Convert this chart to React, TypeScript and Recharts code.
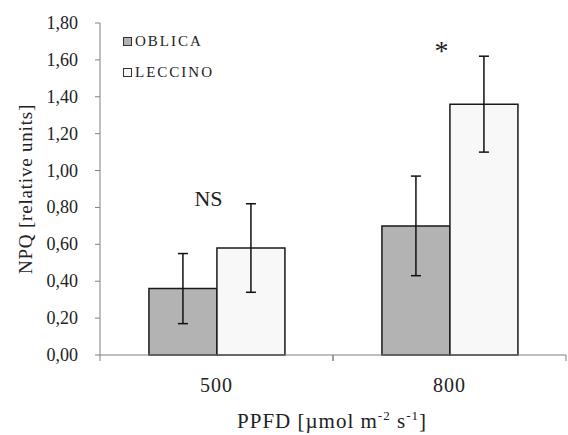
import {
  ComposedChart,
  Bar,
  ErrorBar,
  Scatter,
  XAxis,
  YAxis,
  Legend,
  Label,
} from 'recharts'

const FONT = 'Liberation Serif'

const categories = ['500', '800']
const seriesNames = ['OBLICA', 'LECCINO']
const oblica = [0.36, 0.7]
const leccino = [0.58, 1.36]
const oblicaErr = [0.19, 0.27]
const leccinoErr = [0.24, 0.26]
// significance marks above each light level
const sigLabels = ['NS', '*']
const sigPos = [0.81, 1.6]
const yTicks = [0, 0.2, 0.4, 0.6, 0.8, 1.0, 1.2, 1.4, 1.6, 1.8]

const data = categories.map((c, i) => ({
  name: c,
  oblica: oblica[i],
  leccino: leccino[i],
  oblicaErr: oblicaErr[i],
  leccinoErr: leccinoErr[i],
  sig: sigLabels[i],
  sigPos: sigPos[i],
}))

const fmt = (v: number) => v.toFixed(2).replace('.', ',')

const YTick = (props: any) => {
  const { x, y, payload } = props
  return (
    <text x={x} y={y} dy={6} textAnchor="end" fontFamily={FONT} fontSize={18} fill="#222">
      {fmt(payload.value)}
    </text>
  )
}

const XTick = (props: any) => {
  const { x, y, payload } = props
  const off = payload.offset || 116.5
  return (
    <g>
      <text
        x={x}
        y={y + 37}
        textAnchor="middle"
        fontFamily={FONT}
        fontSize={20}
        letterSpacing={1}
        fill="#222"
      >
        {payload.value}
      </text>
      <line x1={x - off} x2={x - off} y1={y} y2={y + 6} stroke="#808080" />
      <line x1={x + off} x2={x + off} y1={y} y2={y + 6} stroke="#808080" />
    </g>
  )
}

const XTitle = (props: any) => {
  const { viewBox } = props
  const cx = viewBox.x + viewBox.width / 2 - 1
  return (
    <text
      x={cx}
      y={viewBox.y + 73}
      textAnchor="middle"
      fontFamily={FONT}
      fontSize={21}
      letterSpacing={1}
      fill="#222"
    >
      PPFD [µmol m
      <tspan fontSize={13} dy={-8}>-2</tspan>
      <tspan dy={8}> s</tspan>
      <tspan fontSize={13} dy={-8}>-1</tspan>
      <tspan dy={8}>]</tspan>
    </text>
  )
}

const YTitle = (props: any) => {
  const { viewBox } = props
  const cy = viewBox.y + viewBox.height / 2
  return (
    <text
      x={32}
      y={cy}
      transform={`rotate(-90, 32, ${cy})`}
      textAnchor="middle"
      fontFamily={FONT}
      fontSize={19}
      letterSpacing={0.8}
      fill="#222"
    >
      NPQ [relative units]
    </text>
  )
}

const SigMark = (props: any) => {
  const { cx, cy, payload } = props
  const star = payload.sig === '*'
  return (
    <text
      x={cx - 8}
      y={cy}
      textAnchor="middle"
      fontFamily={FONT}
      fontSize={star ? 28 : 22}
      fill="#222"
    >
      {payload.sig}
    </text>
  )
}

const renderLegend = (props: any) => {
  const items = (props.payload || [])
    .filter((p: any) => p.type !== 'none')
    .sort((a: any, b: any) => seriesNames.indexOf(a.value) - seriesNames.indexOf(b.value))
  return (
    <div style={{ fontFamily: FONT, fontSize: 15, letterSpacing: 2, color: '#222' }}>
      {items.map((p: any) => (
        <div key={p.value} style={{ height: 31, display: 'flex', alignItems: 'center' }}>
          <span
            style={{
              display: 'inline-block',
              width: 7,
              height: 7,
              border: '1px solid #333',
              background: p.color,
              marginRight: 3,
            }}
          />
          <span>{p.value}</span>
        </div>
      ))}
    </div>
  )
}

export default function App() {
  return (
    <div
      style={{
        position: 'absolute',
        left: 0,
        top: 0,
        width: 568,
        height: 435,
        background: '#fff',
        fontFamily: FONT,
      }}
    >
      <ComposedChart
        width={568}
        height={435}
        data={data}
        margin={{ top: 23, right: 2, left: 0, bottom: 0 }}
        barGap={0}
        barCategoryGap="21%"
      >
        <XAxis
          dataKey="name"
          height={80}
          interval={0}
          axisLine={{ stroke: '#808080' }}
          tickLine={false}
          tickSize={0}
          tickMargin={0}
          tick={<XTick />}
        >
          <Label content={<XTitle />} />
        </XAxis>
        <YAxis
          width={100}
          domain={[0, 1.8]}
          ticks={yTicks}
          interval={0}
          axisLine={{ stroke: '#808080' }}
          tickLine={{ stroke: '#808080' }}
          tickSize={5}
          tickMargin={17}
          tick={<YTick />}
        >
          <Label content={<YTitle />} />
        </YAxis>
        <Legend
          layout="vertical"
          align="center"
          verticalAlign="middle"
          content={renderLegend}
          wrapperStyle={{ left: 123, top: 26, width: 120, height: 62 }}
        />
        <Bar
          dataKey="oblica"
          name={seriesNames[0]}
          fill="#b3b3b3"
          stroke="#1a1a1a"
          strokeWidth={1.5}
          isAnimationActive={false}
        >
          <ErrorBar dataKey="oblicaErr" width={5} stroke="#111" strokeWidth={1.5} direction="y" />
        </Bar>
        <Bar
          dataKey="leccino"
          name={seriesNames[1]}
          fill="#f8f8f8"
          stroke="#1a1a1a"
          strokeWidth={1.5}
          isAnimationActive={false}
        >
          <ErrorBar dataKey="leccinoErr" width={5} stroke="#111" strokeWidth={1.5} direction="y" />
        </Bar>
        <Scatter
          dataKey="sigPos"
          legendType="none"
          shape={<SigMark />}
          isAnimationActive={false}
        />
      </ComposedChart>
    </div>
  )
}
